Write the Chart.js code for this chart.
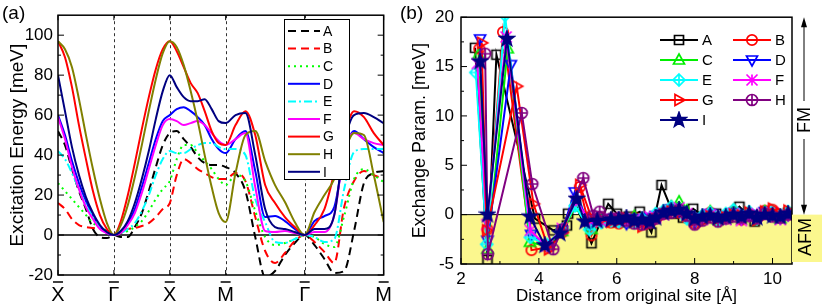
<!DOCTYPE html>
<html>
<head>
<meta charset="utf-8">
<script src="https://cdn.jsdelivr.net/npm/chart.js@4.4.0/dist/chart.umd.min.js"></script>
<style>
  html, body { margin: 0; padding: 0; background: #fff; }
  #wrap { position: relative; width: 822px; height: 306px; overflow: hidden; }
  #chartA { position: absolute; left: 0; top: 0; }
  #chartB { position: absolute; left: 400px; top: 0; }
</style>
</head>
<body>
<div id="wrap">
  <canvas id="chartA" width="400" height="306"></canvas>
  <canvas id="chartB" width="422" height="306"></canvas>
</div>
<script>
// ---------- Panel (a): excitation spectra along X-G-X-M-G-M ----------

// high-symmetry points on the k-path
const kTicks = [0, 1, 2, 3, 4.414, 5.828];
const kLabels = ['X', 'Γ', 'X', 'M', 'Γ', 'M'];

// sample positions along the path
const kPath = [
  0, 0.125, 0.25, 0.375, 0.5, 0.625, 0.75, 0.875, 1,
  1.125, 1.25, 1.375, 1.5, 1.625, 1.75, 1.875, 2,
  2.125, 2.25, 2.375, 2.5, 2.625, 2.75, 2.875, 3,
  3.177, 3.354, 3.530, 3.707, 3.884, 4.061, 4.237, 4.414,
  4.591, 4.768, 4.944, 5.121, 5.298, 5.475, 5.651, 5.828
];

// excitation energy [meV]
const bandA = [52, 45, 33, 22, 13, 3, -1, -1.5, 0, -1, -1, 4, 11, 22, 34, 45, 51, 52, 48, 44, 39, 36, 35, 35, 34, 31, 22, -1, -21, -18, -10, -4, 0, -5, -12, -19, -18, 2, 26, 31, 32];
const bandB = [16, 13, 8, 5, 4, 3.5, 3, 2, 0, 2, 3, 3.5, 4.5, 6, 9, 13, 16, 30, 38, 36, 33, 31, 29, 28, 28, 31, 27, 9, -8, -14, -9, -3, 0, -3.5, -8.5, -14, 14, 27, 32, 30, 28];
const bandC = [26, 22, 18, 14, 10, 6, 4, 2, 0, 1, 2, 4, 7, 12, 18, 23, 27, 38, 45, 45, 41, 37, 33, 28, 25, 30, 27, 12, -1, -5, -4, -2, 0, -1, -4.5, -6, 9.5, 28, 33, 30, 26.5];
const bandD = [60, 50, 37, 26, 17, 10, 4, 1, 0, 2, 6, 13, 24, 36, 48, 57, 60, 63, 64, 62, 59, 55, 48, 43, 41, 48, 52, 32, 9, 9.5, 7, 3, 0, 7, 9.5, 14, 40, 52, 48, 44, 41];
const bandE = [42, 38, 31, 23, 15, 9, 4, 1.5, 0, 1, 3, 6, 12, 20, 30, 38, 42, 41, 41, 43, 45, 46, 46, 44, 43, 43, 40, 18, 6.5, -3.5, -4, -2, 0, -1, -3.5, -2, 23, 41.5, 43, 43, 43];
const bandF = [59, 48, 34, 23, 14, 8, 3, 1, 0, 1, 5, 11, 21, 33, 45, 55, 58, 57, 55, 56, 57, 55, 51, 47, 45, 48, 51, 24, 2, 1.5, 2, 1, 0, 1.5, 1.5, 10, 42, 51, 48, 46, 45];
const bandG = [97, 89, 74, 55, 38, 22, 10, 3, 0, 7, 20, 36, 53, 69, 83, 93, 97, 92, 84, 76, 71, 62, 52, 46, 45, 55, 62, 50, 25, 16, 9, 4, 0, 5, 13, 31, 50, 62, 59, 51, 45];
const bandH = [97, 93, 84, 68, 50, 33, 18, 6, 0, 5, 15, 29, 45, 62, 78, 91, 97, 94, 85, 72, 57, 40, 24, 11, 6.5, 31, 50, 52, 37, 25, 16.5, 6.5, 0, 11.5, 20, 28, 41.5, 51, 50, 30, 6.5];
const bandI = [80, 62, 44, 30, 19, 11, 5, 1.5, 0, 2, 7, 16, 28, 42, 58, 72, 80, 74, 69, 67, 67, 68, 63, 57, 56, 60, 61, 40, 13, 4, 3, 1.5, 0, 3, 3, 10, 45, 60, 61, 59, 56];

const yMajorA = [-20, 0, 20, 40, 60, 80, 100];
const yMinorA = [-10, 10, 30, 50, 70, 90];

// ---------- Panel (b): exchange parameters vs distance ----------

const distA = [2.36, 2.68, 2.91, 3.9, 4.37, 4.72, 4.75, 4.95, 5.35, 5.78, 6.0, 6.3, 6.59, 6.89, 7.15, 7.45, 7.7, 7.96, 8.25, 8.55, 8.85, 9.15, 9.54, 9.8, 10.1, 10.4];
const exchA = [16.9, -4.6, 16.2, -0.4, -1.6, -1.1, 0.1, 1.0, -2.9, 1.1, 0.1, -0.2, 0.3, -1.8, 3.0, 0.1, -0.3, 0.6, -0.2, 0.1, -0.3, 0.8, -0.7, 0.2, 0.0, 0.2];

// near shells of the other systems
const distB = [2.47, 2.68, 3.08, 3.81, 4.25, 4.6, 5.05, 5.35, 5.6, 5.85];
const distC = [2.45, 2.68, 3.2, 3.77, 4.2, 4.6, 4.93, 5.35, 5.6, 5.85];
const distD = [2.49, 2.68, 3.28, 3.8, 4.2, 4.6, 4.92, 5.3, 5.6, 5.85];
const distE = [2.38, 2.66, 3.13, 3.78, 4.2, 4.6, 4.93, 5.3, 5.6, 5.85];
const distF = [2.42, 2.66, 3.16, 3.78, 4.2, 4.6, 4.95, 5.3, 5.6, 5.85];
const distG = [2.53, 2.66, 3.43, 3.86, 4.25, 4.6, 5.05, 5.35, 5.6, 5.85];
const distH = [2.62, 2.69, 3.56, 3.83, 4.37, 4.6, 5.14, 5.4, 5.56, 5.85];
const distI = [2.49, 2.68, 3.18, 3.77, 4.15, 4.54, 4.97, 5.18, 5.5, 5.85];
// far shells (shared)
const tailDist = [6.05, 6.25, 6.45, 6.65, 6.85, 7.0, 7.2, 7.4, 7.6, 7.8, 8.0, 8.2, 8.4, 8.6, 8.8, 9.0, 9.2, 9.4, 9.6, 9.8, 10.0, 10.2, 10.4];

const exchB = [16.8, -1.5, 18.5, -3.6, -3.3, -1.8, 2.8, -2.1, -0.3, -0.8, -0.9, -0.6, -0.3, -0.8, -0.5, -0.2, 0.1, 0.5, 0.2, -0.3, -0.9, -0.4, 0.2, -0.6, -0.2, 0.3, -0.5, 0.1, -0.3, 0.4, 0.5, -0.2, 0.1];
const exchC = [16.2, -3.5, 16.8, -2.8, -3.2, -1.7, 0.8, -1.5, -0.6, -0.5, -0.5, -0.8, -0.2, -0.6, -0.4, 0.0, 0.3, 0.8, 1.3, 0.4, -0.6, -0.2, 0.3, -0.5, 0.0, 0.4, -0.3, 0.2, -0.1, 0.3, 0.2, -0.4, 0.2];
const exchD = [17.8, -2.6, 15.2, -2.0, -3.0, -1.6, 2.3, -1.0, -0.5, -0.4, -0.6, -0.9, -0.4, -0.7, -0.3, -0.1, 0.2, 0.6, 0.4, -0.2, -0.8, -0.3, 0.1, -0.4, -0.1, 0.2, -0.4, 0.0, -0.2, 0.3, 0.1, -0.3, 0.0];
const exchE = [14.4, -3.0, 20.2, -2.3, -3.0, -1.5, 0.9, -1.5, -0.8, -0.6, -0.7, -0.5, -0.8, -0.4, -0.6, 0.1, 0.4, 0.8, 0.6, -0.4, -0.5, -0.1, 0.2, -0.6, 0.1, 0.5, -0.2, 0.3, -0.4, 0.2, 0.3, -0.1, 0.3];
const exchF = [15.3, -1.0, 18.0, -1.6, -3.2, -1.4, 1.4, -0.6, -0.7, -0.5, -0.4, -0.7, -0.5, -0.9, -0.2, -0.3, 0.0, 0.3, 0.7, 0.1, -0.7, -0.5, 0.0, -0.3, -0.5, 0.1, -0.6, -0.2, 0.1, 0.0, 0.2, -0.5, -0.1];
const exchG = [17.4, -1.6, 13.0, 1.1, -3.5, -1.8, 3.0, -0.3, -0.5, -0.7, -0.6, -0.4, -0.7, -1.2, -0.9, -0.5, 0.0, 0.3, 0.3, -0.1, -0.6, -0.7, -0.2, -0.4, -0.3, 0.0, -0.1, 0.2, -0.5, 0.3, 0.6, 0.1, 0.4];
const exchH = [16.3, -4.0, 10.3, 3.1, -3.5, -1.5, 3.7, -0.1, 0.3, -0.4, -0.3, -0.6, -0.9, -1.0, -0.8, -0.4, 0.1, 0.2, 0.5, -0.1, -1.0, -0.6, -0.3, -0.7, -0.4, -0.2, -0.3, -0.1, -0.4, 0.1, -0.2, -0.3, 0.0];
const exchI = [15.5, 0.0, 17.8, -0.2, -3.1, -1.9, 1.6, -0.7, -0.6, -0.5, -0.5, -0.3, -0.6, -0.5, -0.7, -0.3, 0.2, 0.4, 0.5, 0.1, -0.4, -0.2, -0.1, -0.3, -0.2, 0.0, -0.2, 0.1, -0.3, 0.0, -0.1, -0.2, 0.1];

const xMajorB = [2, 4, 6, 8, 10];
const xMinorB = [3, 5, 7, 9];
const yMajorB = [-5, 0, 5, 10, 15, 20];
const yMinorB = [-2.5, 2.5, 7.5, 12.5, 17.5];

// ---------- helpers ----------
const FONT = '"Liberation Sans", Arial, Helvetica, sans-serif';

function line(ctx, x1, y1, x2, y2) {
    ctx.beginPath();
    ctx.moveTo(x1, y1);
    ctx.lineTo(x2, y2);
    ctx.stroke();
}

function rotatedText(ctx, text, x, y, font) {
    ctx.save();
    ctx.translate(x, y);
    ctx.rotate(-Math.PI / 2);
    ctx.font = font;
    ctx.textAlign = 'center';
    ctx.textBaseline = 'middle';
    ctx.fillText(text, 0, 0);
    ctx.restore();
}

// Build a small canvas used as point style (and in the legend)
function makeMarker(shape, color) {
    const s = 18, c = s / 2;
    const cv = document.createElement('canvas');
    cv.width = s; cv.height = s;
    const g = cv.getContext('2d');
    g.strokeStyle = color;
    g.fillStyle = color;
    g.lineWidth = 1.7;
    g.beginPath();
    switch (shape) {
        case 'square':
            g.rect(c - 4.5, c - 4.5, 9, 9);
            break;
        case 'circle':
            g.arc(c, c, 5.2, 0, Math.PI * 2);
            break;
        case 'up':
            g.moveTo(c, c - 6); g.lineTo(c + 5.5, c + 4); g.lineTo(c - 5.5, c + 4); g.closePath();
            break;
        case 'down':
            g.moveTo(c, c + 6); g.lineTo(c + 5.5, c - 4); g.lineTo(c - 5.5, c - 4); g.closePath();
            break;
        case 'right':
            g.moveTo(c + 6, c); g.lineTo(c - 4, c - 5.5); g.lineTo(c - 4, c + 5.5); g.closePath();
            break;
        case 'diamondPlus':
            g.moveTo(c, c - 6); g.lineTo(c + 6, c); g.lineTo(c, c + 6); g.lineTo(c - 6, c); g.closePath();
            g.moveTo(c, c - 6); g.lineTo(c, c + 6);
            g.moveTo(c - 6, c); g.lineTo(c + 6, c);
            break;
        case 'cross':
            g.moveTo(c - 5.5, c - 5.5); g.lineTo(c + 5.5, c + 5.5);
            g.moveTo(c + 5.5, c - 5.5); g.lineTo(c - 5.5, c + 5.5);
            g.moveTo(c, c - 5.5); g.lineTo(c, c + 5.5);
            break;
        case 'circlePlus':
            g.arc(c, c, 5.5, 0, Math.PI * 2);
            g.moveTo(c, c - 5.5); g.lineTo(c, c + 5.5);
            g.moveTo(c - 5.5, c); g.lineTo(c + 5.5, c);
            break;
        case 'star':
            for (let k = 0; k < 10; k++) {
                const r = k % 2 === 0 ? 7.5 : 3;
                const ang = -Math.PI / 2 + k * Math.PI / 5;
                const px = c + r * Math.cos(ang), py = c + r * Math.sin(ang);
                if (k === 0) g.moveTo(px, py); else g.lineTo(px, py);
            }
            g.closePath();
            g.fill();
            break;
    }
    g.stroke();
    return cv;
}

// ---------- Panel (a) chart ----------
const bandSeries = [
    { label: 'A', data: bandA, color: '#000000', dash: [8, 5] },
    { label: 'B', data: bandB, color: '#ff0000', dash: [8, 5] },
    { label: 'C', data: bandC, color: '#00ff00', dash: [2, 4] },
    { label: 'D', data: bandD, color: '#0000ff', dash: [] },
    { label: 'E', data: bandE, color: '#00ffff', dash: [8, 3, 2, 3] },
    { label: 'F', data: bandF, color: '#ff00ff', dash: [] },
    { label: 'G', data: bandG, color: '#ff0000', dash: [] },
    { label: 'H', data: bandH, color: '#808000', dash: [] },
    { label: 'I', data: bandI, color: '#000080', dash: [] }
];

const panelAPlugin = {
    id: 'panelA',
    beforeDatasetsDraw(chart) {
        const { ctx, chartArea: a, scales: { x, y } } = chart;
        ctx.save();
        ctx.strokeStyle = '#333';
        ctx.lineWidth = 1;
        ctx.setLineDash([3, 3]);
        kTicks.slice(1, -1).forEach(v => {
            const px = Math.round(x.getPixelForValue(v)) + 0.5;
            line(ctx, px, a.top, px, a.bottom);
        });
        ctx.setLineDash([]);
        ctx.strokeStyle = '#000';
        ctx.lineWidth = 1.5;
        const py = y.getPixelForValue(0);
        line(ctx, a.left, py, a.right, py);
        ctx.restore();
    },
    afterDraw(chart) {
        const { ctx, chartArea: a, scales: { x, y } } = chart;
        ctx.save();
        ctx.strokeStyle = '#000';
        ctx.fillStyle = '#000';
        ctx.lineWidth = 1.5;
        ctx.strokeRect(a.left, a.top, a.right - a.left, a.bottom - a.top);

        // inward ticks, mirrored
        ctx.lineWidth = 1;
        yMajorA.forEach(v => {
            const py = y.getPixelForValue(v);
            line(ctx, a.left, py, a.left + 6, py);
            line(ctx, a.right, py, a.right - 6, py);
        });
        yMinorA.forEach(v => {
            const py = y.getPixelForValue(v);
            line(ctx, a.left, py, a.left + 3, py);
            line(ctx, a.right, py, a.right - 3, py);
        });
        kTicks.forEach(v => {
            const px = x.getPixelForValue(v);
            line(ctx, px, a.top, px, a.top + 5);
            line(ctx, px, a.bottom, px, a.bottom - 5);
        });

        // overbars on the high-symmetry labels
        ctx.lineWidth = 1.5;
        kTicks.forEach(v => {
            const px = x.getPixelForValue(v);
            line(ctx, px - 5, a.bottom + 7, px + 5, a.bottom + 7);
        });

        rotatedText(ctx, 'Excitation Energy [meV]', 18, (a.top + a.bottom) / 2, '19px ' + FONT);
        ctx.font = '19px ' + FONT;
        ctx.textAlign = 'left';
        ctx.textBaseline = 'middle';
        ctx.fillText('(a)', 2, 14);

        // legend box
        const lx = 284, ly = 19, lw = 65, lh = 160;
        ctx.fillStyle = '#fff';
        ctx.fillRect(lx, ly, lw, lh);
        ctx.strokeStyle = '#000';
        ctx.lineWidth = 1;
        ctx.strokeRect(lx + 0.5, ly + 0.5, lw, lh);
        ctx.font = '14px ' + FONT;
        bandSeries.forEach((s, i) => {
            const ry = 31 + i * 17.6;
            ctx.strokeStyle = s.color;
            ctx.lineWidth = 2;
            ctx.setLineDash(s.dash);
            line(ctx, 288, ry, 320, ry);
            ctx.setLineDash([]);
            ctx.fillStyle = '#000';
            ctx.fillText(s.label, 323, ry + 1);
        });
        ctx.restore();
    }
};

new Chart(document.getElementById('chartA'), {
    type: 'line',
    data: {
        datasets: bandSeries.map((s, i) => ({
            label: s.label,
            data: kPath.map((k, j) => ({ x: k, y: s.data[j] })),
            borderColor: s.color,
            borderDash: s.dash,
            borderWidth: 2,
            pointRadius: 0,
            cubicInterpolationMode: 'monotone',
            fill: false,
            order: 9 - i
        }))
    },
    options: {
        responsive: false,
        animation: false,
        layout: { padding: { top: 15, right: 10, left: 0, bottom: 0 } },
        plugins: { legend: { display: false }, tooltip: { enabled: false } },
        scales: {
            x: {
                type: 'linear',
                min: 0,
                max: 5.828,
                afterBuildTicks: s => { s.ticks = kTicks.map(v => ({ value: v })); },
                afterFit: s => { s.height = 31; },
                grid: { display: false, drawTicks: false },
                border: { display: false },
                ticks: {
                    autoSkip: false,
                    maxRotation: 0,
                    padding: 8,
                    color: '#000',
                    font: { family: FONT, size: 20 },
                    callback: (v, i) => kLabels[i]
                }
            },
            y: {
                min: -20,
                max: 110,
                afterBuildTicks: s => { s.ticks = yMajorA.map(v => ({ value: v })); },
                afterFit: s => { s.width = 58; },
                grid: { display: false, drawTicks: false },
                border: { display: false },
                ticks: { padding: 5, color: '#000', font: { family: FONT, size: 17 } }
            }
        }
    },
    plugins: [panelAPlugin]
});

// ---------- Panel (b) chart ----------
const exchSeries = [
    { label: 'A', dist: distA, vals: exchA, color: '#000000', shape: 'square' },
    { label: 'B', dist: distB.concat(tailDist), vals: exchB, color: '#ff0000', shape: 'circle' },
    { label: 'C', dist: distC.concat(tailDist), vals: exchC, color: '#00ee00', shape: 'up' },
    { label: 'D', dist: distD.concat(tailDist), vals: exchD, color: '#0000ff', shape: 'down' },
    { label: 'E', dist: distE.concat(tailDist), vals: exchE, color: '#00ffff', shape: 'diamondPlus' },
    { label: 'F', dist: distF.concat(tailDist), vals: exchF, color: '#ff00ff', shape: 'cross' },
    { label: 'G', dist: distG.concat(tailDist), vals: exchG, color: '#ff0000', shape: 'right' },
    { label: 'H', dist: distH.concat(tailDist), vals: exchH, color: '#800080', shape: 'circlePlus' },
    { label: 'I', dist: distI.concat(tailDist), vals: exchI, color: '#000080', shape: 'star' }
];
exchSeries.forEach(s => { s.marker = makeMarker(s.shape, s.color); });

const YELLOW = '#fbf78e';

const panelBPlugin = {
    id: 'panelB',
    beforeDatasetsDraw(chart) {
        const { ctx, chartArea: a, scales: { y } } = chart;
        const y0 = y.getPixelForValue(0);
        ctx.save();
        ctx.fillStyle = YELLOW;
        ctx.fillRect(a.left, y0, a.right - a.left, a.bottom - y0);
        ctx.strokeStyle = '#000';
        ctx.lineWidth = 1;
        line(ctx, a.left, y0, a.right, y0);
        ctx.restore();
    },
    afterDraw(chart) {
        const { ctx, chartArea: a, scales: { x, y } } = chart;
        ctx.save();
        ctx.strokeStyle = '#000';
        ctx.fillStyle = '#000';
        ctx.lineWidth = 1.5;
        ctx.strokeRect(a.left, a.top, a.right - a.left, a.bottom - a.top);

        ctx.lineWidth = 1;
        yMajorB.forEach(v => { const py = y.getPixelForValue(v); line(ctx, a.left, py, a.left + 6, py); });
        yMinorB.forEach(v => { const py = y.getPixelForValue(v); line(ctx, a.left, py, a.left + 3, py); });
        xMajorB.forEach(v => { const px = x.getPixelForValue(v); line(ctx, px, a.bottom, px, a.bottom - 6); });
        xMinorB.forEach(v => { const px = x.getPixelForValue(v); line(ctx, px, a.bottom, px, a.bottom - 3); });

        rotatedText(ctx, 'Exchange Param. [meV]', 20, (a.top + a.bottom) / 2, '18px ' + FONT);
        ctx.font = '17px ' + FONT;
        ctx.textAlign = 'center';
        ctx.textBaseline = 'middle';
        ctx.fillText('Distance from original site [Å]', (a.left + a.right) / 2, 296);
        ctx.font = '19px ' + FONT;
        ctx.textAlign = 'left';
        ctx.fillText('(b)', 0, 14);

        // FM / AFM annotation on the right
        const ax = 404;
        const y0 = y.getPixelForValue(0);
        ctx.fillStyle = YELLOW;
        ctx.fillRect(a.right, y0, 422 - a.right, 262 - y0);
        ctx.fillStyle = '#000';
        ctx.lineWidth = 1;
        line(ctx, ax, a.top + 8, ax, 101);
        line(ctx, ax, 139, ax, y0 - 8);
        ctx.beginPath();
        ctx.moveTo(ax, a.top); ctx.lineTo(ax - 3, a.top + 10); ctx.lineTo(ax + 3, a.top + 10); ctx.closePath();
        ctx.fill();
        ctx.beginPath();
        ctx.moveTo(ax, y0); ctx.lineTo(ax - 3, y0 - 10); ctx.lineTo(ax + 3, y0 - 10); ctx.closePath();
        ctx.fill();
        rotatedText(ctx, 'FM', ax + 1, 120, '18px ' + FONT);
        rotatedText(ctx, 'AFM', ax + 2, 237, '18px ' + FONT);

        // two-column legend
        ctx.font = '15px ' + FONT;
        ctx.textAlign = 'left';
        ctx.textBaseline = 'middle';
        exchSeries.forEach((s, i) => {
            const col = i % 2, row = Math.floor(i / 2);
            const x1 = col === 0 ? 260 : 333;
            const ry = 40 + row * 20;
            ctx.strokeStyle = s.color;
            ctx.lineWidth = 2;
            line(ctx, x1, ry, x1 + 38, ry);
            ctx.drawImage(s.marker, x1 + 19 - s.marker.width / 2, ry - s.marker.height / 2);
            ctx.fillStyle = '#000';
            ctx.fillText(s.label, x1 + 42, ry + 1);
        });
        ctx.restore();
    }
};

new Chart(document.getElementById('chartB'), {
    type: 'line',
    data: {
        datasets: exchSeries.map((s, i) => ({
            label: s.label,
            data: s.dist.map((d, j) => ({ x: d, y: s.vals[j] })),
            borderColor: s.color,
            borderWidth: 2,
            pointStyle: s.marker,
            pointRadius: 5,
            tension: 0,
            fill: false,
            order: 9 - i
        }))
    },
    options: {
        responsive: false,
        animation: false,
        layout: { padding: { top: 17, right: 30, left: 0, bottom: 0 } },
        plugins: { legend: { display: false }, tooltip: { enabled: false } },
        scales: {
            x: {
                type: 'linear',
                min: 2,
                max: 10.5,
                afterBuildTicks: s => { s.ticks = xMajorB.map(v => ({ value: v })); },
                afterFit: s => { s.height = 42; },
                grid: { display: false, drawTicks: false },
                border: { display: false },
                ticks: { maxRotation: 0, autoSkip: false, padding: 5, color: '#000', font: { family: FONT, size: 17 } }
            },
            y: {
                min: -5,
                max: 20,
                afterBuildTicks: s => { s.ticks = yMajorB.map(v => ({ value: v })); },
                afterFit: s => { s.width = 61; },
                grid: { display: false, drawTicks: false },
                border: { display: false },
                ticks: { padding: 7, color: '#000', font: { family: FONT, size: 17 } }
            }
        }
    },
    plugins: [panelBPlugin]
});
</script>
</body>
</html>
